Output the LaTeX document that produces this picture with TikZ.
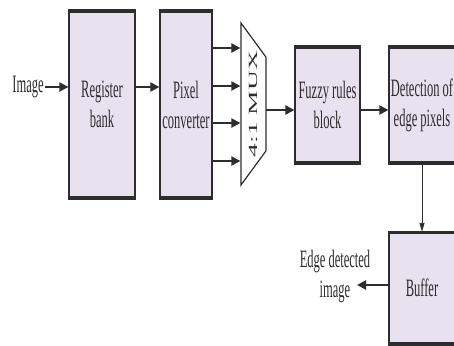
\documentclass[tikz,border=0pt]{standalone}
\usepackage{fontspec}
\setmainfont{Liberation Serif}
\usepackage{tikz}
\usetikzlibrary{arrows.meta,positioning,shapes.geometric}
\definecolor{blockfill}{RGB}{232,225,240}
\definecolor{ink}{RGB}{45,45,45}

\begin{document}
\begin{tikzpicture}[
    x=1pt, y=-1pt,
    lbl/.style={font=\fontsize{12.5}{15}\selectfont, text=ink, yscale=2, align=center, inner sep=1pt},
    block/.style={lbl, rectangle, draw=ink, line width=1.2pt, fill=blockfill},
    arrow/.style={-{Triangle[length=9pt, width=9pt]}, line width=2pt, draw=ink},
    thinarrow/.style={-{Triangle[length=9pt, width=5pt]}, line width=0.9pt, draw=ink},
    edge/.style={line width=2.6pt, draw=ink}
]
\useasboundingbox (0,0) rectangle (454,345);

% Blocks
\node[lbl] (img) at (28,87) {Image};
\node[block, minimum width=66, minimum height=92.5] (reg) at (102,104.5) {Register\\bank};
\node[block, minimum width=52, minimum height=92.5] (pix) at (186,104.5) {Pixel\\converter};
\node[lbl, draw=ink, line width=1.2pt, trapezium, shape border rotate=180, rotate=90,
      trapezium stretches=true, minimum width=81, minimum height=25,
      trapezium left angle=70, trapezium right angle=70] (mux) at (253.5,104) {};
\node[font=\fontsize{12.5}{15}\selectfont, text=ink, inner sep=0pt] (muxlbl) at (mux.center)
    {\rotatebox{90}{\scalebox{2.2}[1]{4:1 MUX}}};
\node[block, minimum width=65, minimum height=57] (fuz) at (327.5,105) {Fuzzy rules\\block};
\node[block, minimum width=66, minimum height=57] (det) at (422,105) {Detection of\\edge pixels};
\node[block, minimum width=66, minimum height=55] (buf) at (422,288) {Buffer};
\node[lbl] (out) at (335,277) {Edge detected\\image};

% Heavy top and bottom edges
\foreach \b in {reg,pix,fuz,det,buf}
    \draw[edge] (\b.north west) -- (\b.north east) (\b.south west) -- (\b.south east);

% Arrows
\coordinate (muxout) at (266,110);
\coordinate (outtip) at (357,285);
\draw[arrow] (img.east) -- (img.east -| reg.west);
\draw[arrow] (reg.east |- img) -- (pix.west |- img);
\foreach \y in {48,86,123,161}
    \draw[arrow] (pix.east |- 0,\y) -- (mux.north |- 0,\y);
\draw[arrow] (muxout) -- (muxout -| fuz.west);
\draw[arrow] (fuz.east |- muxout) -- (det.west |- muxout);
\draw[thinarrow] (det.south) -- (buf.north);
\draw[arrow] (outtip -| buf.west) -- (outtip);

\end{tikzpicture}
\end{document}
